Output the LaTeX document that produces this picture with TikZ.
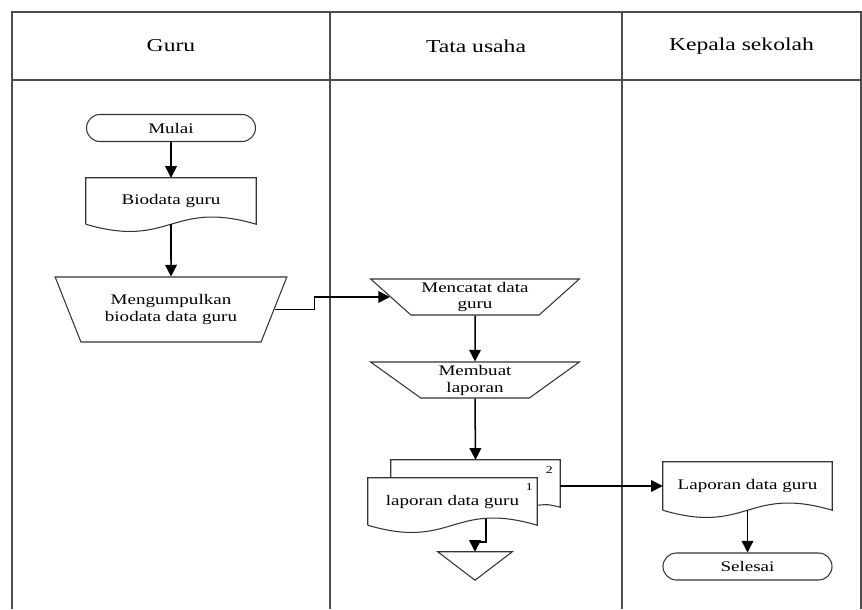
\documentclass[tikz,border=0pt]{standalone}
\usepackage{fontspec}
\setmainfont{Liberation Serif}[FakeStretch=1.3]
\usetikzlibrary{shapes.geometric,shapes.misc,arrows.meta}
% document symbol with a wavy bottom
\newcommand{\dokumen}[1]{%
  \draw[garis] (#1.south west) -- (#1.north west) -- (#1.north east) -- (#1.south east)
    .. controls ([yshift=0.75cm]#1.south) and ([yshift=-0.75cm]#1.south) .. (#1.south west);}

\begin{document}
\begin{tikzpicture}[x=0.03cm,y=-0.03cm,
    garis/.style={draw=black!80,line width=0.9pt},
    lajur/.style={draw=black!70,line width=1.2pt},
    panah/.style={-{Triangle[length=10pt,width=10pt]},line width=1.3pt},
    teks/.style={font=\fontsize{12.5}{14.5}\selectfont,align=center,inner sep=0pt},
    mulaiselesai/.style={rounded rectangle,garis,teks,minimum width=5.07cm,minimum height=0.81cm},
    dok/.style={rectangle,teks,minimum width=5.1cm,minimum height=1.38cm},
    manual/.style={trapezium,shape border rotate=180,trapezium stretches=true,garis,teks},
    judul/.style={font=\fontsize{15.5}{18}\selectfont}]
        \useasboundingbox (0,0) rectangle (862,609);

        % lanes
        \draw[lajur] (12,609) -- (12,12) -- (861,12) -- (861,609);
        \draw[lajur] (12,80) -- (861,80);
        \draw[lajur] (330,12) -- (330,609);
        \draw[lajur] (622,12) -- (622,609);
        \node[judul] (hguru) at (171,46) {Guru};
        \node[judul] (htu) at (476,46) {Tata usaha};
        \node[judul] (hkepsek) at (741.5,46) {Kepala sekolah};

        % Guru
        \node[mulaiselesai] (mulai) at (171,128) {Mulai};
        \node[dok] (biodata) at (171,201) {Biodata guru};
        \dokumen{biodata}
        \node[manual,minimum width=6.96cm,minimum height=1.95cm,trapezium angle=58] (kumpul) at (171,309.5)
                {Mengumpulkan\\biodata data guru};

        % Tata usaha
        \node[manual,minimum width=6.27cm,minimum height=1.08cm,trapezium angle=42] (catat) at (475,297)
                {Mencatat data\\guru};
        \node[manual,minimum width=6.27cm,minimum height=1.08cm,trapezium angle=42] (buat) at (475,380)
                {Membuat\\laporan};
        \node[dok,minimum width=5.07cm,minimum height=1.41cm] (lapdata) at (452.5,501.5) {laporan data guru};
        \coordinate (blk) at ([xshift=0.69cm,yshift=0.54cm]lapdata.north);
        \coordinate (bkanan) at ([xshift=0.69cm,yshift=0.54cm]lapdata.south east);
        \draw[garis] ([xshift=0.69cm]lapdata.north west) |- (blk) -| (bkanan)
                .. controls +(-12,-3) .. ([yshift=0.6cm]lapdata.south east);
        \dokumen{lapdata}
        \node[font=\small] (nsatu) at ([xshift=-0.24cm,yshift=-0.27cm]lapdata.north east) {1};
        \node[font=\small] (ndua) at ([xshift=0.36cm,yshift=0.22cm]lapdata.north east) {2};
        \node[minimum width=2.22cm,minimum height=0.84cm,inner sep=0pt] (arsip) at (475,566) {};
        \draw[garis] (arsip.north west) -- (arsip.north east) -- (arsip.south) -- cycle;

        % Kepala sekolah
        \node[dok,minimum width=5.07cm,minimum height=1.44cm] (lapkepsek) at (747.5,486) {Laporan data guru};
        \dokumen{lapkepsek}
        \node[mulaiselesai] (selesai) at (747.5,566.5) {Selesai};

        % arrows
        \draw[panah] (mulai.south) -- (biodata.north);
        \draw[panah] (biodata.south) -- (kumpul.north);
        \draw[panah] (kumpul.east) -- ++(40,0) |- (catat.west);
        \draw[panah] (catat.south) -- (buat.north);
        \draw[panah] (buat.south) -- (blk);
        \draw[panah] ([xshift=1cm,yshift=0.2cm]lapdata.south) |- ([yshift=0.3cm]arsip.north) -- (arsip.north);
        \draw[panah] (lapkepsek.west -| bkanan) -- (lapkepsek.west);
        \draw[panah] (lapkepsek.south) -- (selesai.north);
\end{tikzpicture}
\end{document}
